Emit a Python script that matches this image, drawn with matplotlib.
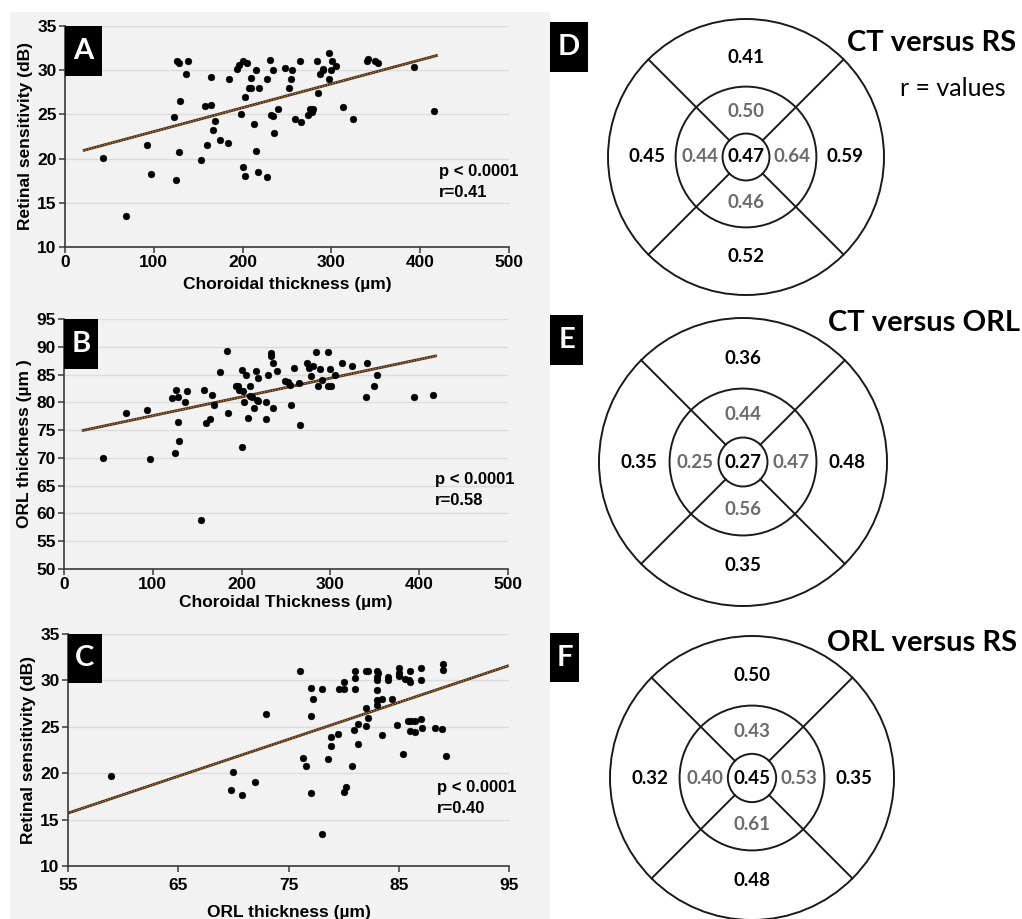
import matplotlib
matplotlib.use("Agg")
import matplotlib.pyplot as plt
from matplotlib.patches import Rectangle, Circle
import numpy as np

# ---- data ----
# A: choroidal thickness vs retinal sensitivity
ct_a = [43, 69, 92, 96.5, 123, 125, 126, 128, 128, 130, 136, 138, 153, 158, 160, 164, 164, 167, 169,
        175, 184, 185, 194, 196, 198, 200, 200, 203, 203, 205, 207, 210, 210, 213, 215, 215, 217, 218,
        227, 228, 231, 232, 234, 234, 235, 240, 248, 252, 255, 256, 259, 265, 266, 274, 276, 278, 279,
        284, 285, 287, 290, 291, 297, 297, 300, 301, 305, 313, 324, 340, 341, 349, 352, 393, 415]
rs_a = [20.1, 13.5, 21.5, 18.3, 24.7, 17.6, 31.0, 30.8, 20.8, 26.5, 29.6, 31.0, 19.8, 26.0, 21.5, 26.1,
        29.2, 23.2, 24.2, 22.1, 21.8, 29.0, 30.1, 30.6, 25.0, 31.0, 19.1, 27.0, 18.0, 30.8, 28.0, 28.0,
        29.1, 23.9, 20.9, 30.0, 18.5, 28.0, 29.0, 17.9, 31.2, 24.9, 24.8, 30.0, 22.9, 25.6, 30.3, 28.0,
        29.0, 30.0, 24.5, 31.0, 24.1, 24.9, 25.6, 25.3, 25.6, 31.0, 27.4, 29.6, 30.0, 30.1, 29.0, 31.9,
        30.0, 31.0, 30.5, 25.8, 24.5, 31.0, 31.3, 31.0, 30.8, 30.4, 25.4]

# B: choroidal thickness vs ORL thickness
ct_b = [44, 70, 93, 97, 122, 125, 126, 128, 128, 130, 136, 139, 154, 158, 160, 164, 167, 169, 176, 184,
        185, 194, 196, 197, 200, 201, 202, 203, 205, 207, 209, 210, 212, 214, 216, 217, 218, 218, 228,
        228, 230, 233, 233, 235, 235, 240, 249, 252, 254, 256, 259, 265, 266, 274, 276, 278, 280, 284,
        286, 288, 291, 297, 297, 300, 301, 305, 313, 324, 340, 341, 349, 352, 394, 416]
orl_b = [70.0, 78.0, 78.7, 69.8, 80.8, 70.8, 82.2, 81.0, 76.5, 73.0, 80.1, 82.0, 58.9, 82.2, 76.3, 77.0,
         81.3, 79.5, 85.4, 89.3, 78.0, 83.0, 82.9, 82.2, 85.9, 72.0, 82.0, 80.1, 85.0, 77.2, 83.0, 81.1,
         81.0, 78.9, 85.6, 80.5, 84.3, 80.2, 80.1, 77.0, 85.0, 88.9, 88.4, 87.0, 78.9, 85.7, 83.9, 83.7,
         83.1, 79.6, 86.1, 83.5, 76.0, 87.1, 86.1, 84.7, 86.5, 89.0, 83.0, 86.0, 84.0, 83.0, 89.0, 86.0,
         83.0, 85.0, 87.1, 86.5, 81.0, 87.0, 83.0, 85.0, 81.0, 81.3]

# C: ORL thickness vs retinal sensitivity
orl_c = [58.9, 69.8, 70.0, 70.8, 72.0, 73.0, 76.0, 76.3, 76.6, 77.0, 77.0, 77.0, 77.2, 78.0, 78.0, 78.6,
         78.9, 78.9, 79.5, 79.6, 80.0, 80.0, 80.0, 80.2, 80.8, 80.9, 81.0, 81.0, 81.0, 81.3, 81.3, 82.0,
         82.0, 82.0, 82.2, 82.2, 83.0, 83.0, 83.0, 83.0, 83.0, 83.0, 83.1, 83.5, 83.5, 84.0, 84.0, 84.4,
         84.8, 85.0, 85.0, 85.0, 85.4, 85.6, 85.8, 85.9, 86.0, 86.0, 86.0, 86.1, 86.5, 86.5, 87.0, 87.0,
         87.0, 87.1, 88.3, 88.9, 89.0, 89.0, 89.3]
rs_c = [19.7, 18.2, 20.1, 17.6, 19.1, 26.4, 31.0, 21.6, 20.8, 29.2, 26.2, 17.9, 28.0, 29.1, 13.5, 21.5,
        23.9, 22.9, 24.2, 29.1, 29.1, 29.8, 18.0, 18.5, 20.8, 24.7, 31.0, 30.3, 29.1, 25.3, 23.2, 27.0,
        25.1, 31.0, 31.0, 26.0, 31.0, 30.4, 30.0, 29.0, 27.9, 27.4, 30.8, 28.0, 24.1, 30.4, 30.0, 28.0,
        25.2, 31.3, 30.8, 30.5, 22.1, 30.1, 25.6, 30.0, 31.0, 29.8, 24.6, 25.6, 25.6, 24.4, 31.3, 30.0,
        25.8, 24.9, 24.9, 24.8, 31.8, 31.1, 21.8]

# trend line end points
fit_a_x, fit_a_y = [20, 420], [20.9, 31.7]
fit_b_x, fit_b_y = [20, 420], [74.9, 88.4]
fit_c_x, fit_c_y = [55, 95], [15.7, 31.6]

stats_a = ["p < 0.0001", "r=0.41"]
stats_b = ["p < 0.0001", "r=0.58"]
stats_c = ["p < 0.0001", "r=0.40"]

# r values for the sector grids: centre, inner (top, left, right, bottom), outer (top, left, right, bottom)
grid_titles = ["CT versus RS", "CT versus ORL", "ORL versus RS"]
grid_centre = ["0.47", "0.27", "0.45"]
grid_inner = [["0.50", "0.44", "0.64", "0.46"],
              ["0.44", "0.25", "0.47", "0.56"],
              ["0.43", "0.40", "0.53", "0.61"]]
grid_outer = [["0.41", "0.45", "0.59", "0.52"],
              ["0.36", "0.35", "0.48", "0.35"],
              ["0.50", "0.32", "0.35", "0.48"]]

# ---- layout helpers (pixel -> figure fraction) ----
W, H = 1022, 919
def fx(px):
    return px / W
def fy(py):
    return 1 - py / H

plt.rcParams['font.family'] = ['Liberation Sans', 'DejaVu Sans']
fig = plt.figure(figsize=(W / 100, H / 100), dpi=100)

# gray panel behind the scatter plots
fig.patches.append(Rectangle((fx(10), fy(919)), fx(540), 907 / H, transform=fig.transFigure,
                             facecolor='#f2f2f2', edgecolor='none', zorder=-10))

def letter_box(x0, y0, w, h, letter):
    fig.patches.append(Rectangle((fx(x0), fy(y0 + h)), w / W, h / H, transform=fig.transFigure,
                                 facecolor='black', edgecolor='none', zorder=5))
    fig.text(fx(x0 + w / 2), fy(y0 + h / 2), letter, color='white', fontsize=21, fontweight='bold',
             family=['Lato', 'DejaVu Sans'], ha='center', va='center', zorder=6)

def scatter_panel(rect, x, y, fx_, fy_, xlim, ylim, xticks, yticks, xlabel, ylabel, stats, stat_xy,
                  xpad=2, xlabelpad=4):
    ax = fig.add_axes(rect)
    ax.set_facecolor('none')
    ax.scatter(x, y, s=24, color='black', zorder=3, linewidths=0.3, edgecolors='black')
    ax.plot(fx_, fy_, color='#4a3018', lw=2.0, zorder=2, solid_capstyle='butt')
    ax.plot(fx_, fy_, color='#d89a60', lw=0.8, ls=(0, (1, 1.5)), zorder=2)
    ax.set_xlim(xlim)
    ax.set_ylim(ylim)
    ax.set_xticks(xticks)
    ax.set_yticks(yticks)
    ax.yaxis.grid(True, color='#dcdcdc', lw=1)
    ax.set_axisbelow(True)
    for s in ['top', 'right']:
        ax.spines[s].set_visible(False)
    for s in ['left', 'bottom']:
        ax.spines[s].set_color('#3a3a3a')
        ax.spines[s].set_linewidth(1.2)
    ax.tick_params(direction='out', length=4, width=1.1, color='#3a3a3a', labelsize=12.5, pad=2)
    ax.tick_params(axis='x', pad=xpad)
    for lab in ax.get_xticklabels() + ax.get_yticklabels():
        lab.set_fontweight('bold')
    ax.set_xlabel(xlabel, fontsize=12.5, fontweight='bold', labelpad=xlabelpad)
    ax.set_ylabel(ylabel, fontsize=12.5, fontweight='bold', labelpad=3)
    ax.text(stat_xy[0], stat_xy[1], stats[0] + "\n" + stats[1], fontsize=12, fontweight='bold',
            ha='left', va='center', linespacing=1.5)
    return ax

axA = scatter_panel([fx(65), fy(247), 444 / W, 221 / H], ct_a, rs_a, fit_a_x, fit_a_y,
                    (0, 500), (10, 35), range(0, 501, 100), range(10, 36, 5),
                    'Choroidal thickness (µm)', 'Retinal sensitivity (dB)', stats_a, (421, 17.4),
                    xpad=2, xlabelpad=5)
axB = scatter_panel([fx(64), fy(569), 444 / W, 250 / H], ct_b, orl_b, fit_b_x, fit_b_y,
                    (0, 500), (50, 95), range(0, 501, 100), range(50, 96, 5),
                    'Choroidal Thickness (µm)', 'ORL thickness (µm )', stats_b, (418, 64.2),
                    xpad=2, xlabelpad=2)
axC = scatter_panel([fx(68), fy(866), 441 / W, 232 / H], orl_c, rs_c, fit_c_x, fit_c_y,
                    (55, 95), (10, 35), range(55, 96, 10), range(10, 36, 5),
                    'ORL thickness (µm)', 'Retinal sensitivity (dB)', stats_c, (88.5, 17.3),
                    xpad=5, xlabelpad=8)

letter_box(65, 26, 37, 50, 'A')
letter_box(64, 319, 34, 50, 'B')
letter_box(68, 634, 34, 49, 'C')

# ---- concentric sector grids ----
centres = [(746, 157, 138), (743, 462, 144), (752, 778, 142)]
r_mid, r_in = 0.51, 0.17
title_pos = [(932, 43), (924, 323), (922, 643)]
for i, (cx, cy, R) in enumerate(centres):
    side = 2 * R * 1.05
    ax = fig.add_axes([fx(cx - side / 2), fy(cy + side / 2), side / W, side / H])
    ax.set_xlim(-1.05, 1.05)
    ax.set_ylim(-1.05, 1.05)
    ax.set_aspect('equal')
    ax.axis('off')
    for r in [1.0, r_mid, r_in]:
        ax.add_patch(Circle((0, 0), r, fill=False, edgecolor='#1a1a1a', lw=1.4))
    for ang in [45, 135, 225, 315]:
        c, s = np.cos(np.radians(ang)), np.sin(np.radians(ang))
        ax.plot([r_in * c, c], [r_in * s, s], color='#1a1a1a', lw=1.4)
    tk = dict(fontsize=13.5, fontweight='bold', family=['Lato', 'DejaVu Sans'], ha='center', va='center')
    ax.text(0, 0, grid_centre[i], color='black', **tk)
    ro, rm = 0.72, 0.33
    for lab, (dx, dy) in zip(grid_inner[i], [(0, rm), (-rm, 0), (rm, 0), (0, -rm)]):
        ax.text(dx, dy, lab, color='#6b6b6b', **tk)
    for lab, (dx, dy) in zip(grid_outer[i], [(0, ro), (-ro, 0), (ro, 0), (0, -ro)]):
        ax.text(dx, dy, lab, color='black', **tk)
    fig.text(fx(title_pos[i][0]), fy(title_pos[i][1]), grid_titles[i], fontsize=21, fontweight='bold',
             family=['Lato', 'DejaVu Sans'], ha='center', va='center')

fig.text(fx(953), fy(88), 'r = values', fontsize=18, family=['Lato', 'DejaVu Sans'],
         ha='center', va='center')

letter_box(550, 22, 38, 50, 'D')
letter_box(550, 315, 33, 50, 'E')
letter_box(550, 633, 29, 49, 'F')

plt.savefig('out.png', dpi=100)
